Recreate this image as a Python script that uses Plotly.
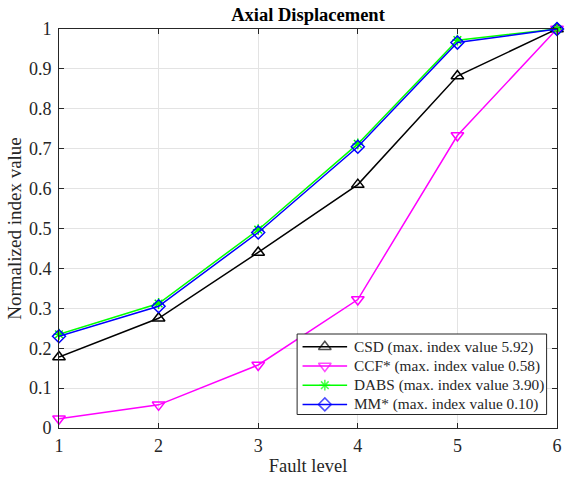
import plotly.graph_objects as go

fault_level = [1, 2, 3, 4, 5, 6]
csd = [0.178, 0.275, 0.44, 0.61, 0.882, 1.0]
ccf = [0.023, 0.058, 0.158, 0.322, 0.733, 1.0]
dabs = [0.235, 0.312, 0.497, 0.712, 0.972, 1.0]
mm = [0.230, 0.305, 0.490, 0.705, 0.966, 1.0]
y_ticks = [0, 0.1, 0.2, 0.3, 0.4, 0.5, 0.6, 0.7, 0.8, 0.9, 1]
y_tick_labels = ["0", "0.1", "0.2", "0.3", "0.4", "0.5", "0.6", "0.7", "0.8", "0.9", "1"]

names = [
    "CSD (max. index value 5.92)",
    "CCF* (max. index value 0.58)",
    "DABS (max. index value 3.90)",
    "MM* (max. index value 0.10)",
]
series = [csd, ccf, dabs, mm]
colors = ["#000000", "#ff00ff", "#00ff00", "#0000ff"]
symbols = ["triangle-up-open", "triangle-down-open", "asterisk-open", "diamond-open"]
sizes = [11, 11, 9, 10]

font = "Liberation Serif, Times New Roman, serif"

# plot area in pixels
L, R, T, B = 59, 562, 29, 428
W, H = 567, 481

fig = go.Figure()
for y, n, c, s, sz in zip(series, names, colors, symbols, sizes):
    fig.add_trace(go.Scatter(
        x=fault_level, y=y, name=n, mode="lines+markers",
        line=dict(color=c, width=1.5),
        marker=dict(symbol=s, size=sz, color=c, line=dict(color=c, width=1.5)),
        cliponaxis=False, showlegend=False,
    ))

# custom legend on a hidden overlay axis measured in pixels
bx0, bx1, by0, by1 = 299.5, 551.5, 334, 414.5
fig.add_trace(go.Scatter(
    x=[bx0, bx1, bx1, bx0, bx0], y=[by0, by0, by1, by1, by0],
    xaxis="x2", yaxis="y2", mode="lines", fill="toself", fillcolor="white",
    line=dict(color="#262626", width=1), hoverinfo="skip", showlegend=False,
))
row_y = [346.7, 366, 385.2, 404.4]
for ry, n, c, s, sz in zip(row_y, names, colors, symbols, sizes):
    fig.add_trace(go.Scatter(
        x=[305, 327.5, 350], y=[ry, ry, ry], xaxis="x2", yaxis="y2",
        mode="lines+markers", line=dict(color=c, width=1.5),
        marker=dict(symbol=s, size=[0, sz, 0], color=c, line=dict(color=c, width=1.5)),
        hoverinfo="skip", showlegend=False,
    ))
    fig.add_annotation(
        x=355, y=ry, xref="x2", yref="y2", text=n, showarrow=False,
        xanchor="left", yanchor="middle",
        font=dict(family=font, size=15.3, color="#262626"),
    )

fig.update_layout(
    width=W, height=H,
    margin=dict(l=L, r=W - R, t=T, b=H - B),
    paper_bgcolor="white", plot_bgcolor="white",
    font=dict(family=font, size=18, color="#262626"),
    title=dict(text="<b>Axial Displacement</b>", xref="paper", x=0.5, xanchor="center",
               yref="container", y=0.969, yanchor="middle",
               font=dict(size=18.5, color="#000000")),
    showlegend=False,
    xaxis2=dict(overlaying="x", range=[L, R], visible=False, fixedrange=True),
    yaxis2=dict(overlaying="y", range=[B, T], visible=False, fixedrange=True),
    xaxis=dict(
        range=[1, 6], tickvals=fault_level, ticktext=[str(v) for v in fault_level],
        showgrid=True, gridcolor="#e3e3e3", gridwidth=1,
        showline=True, linecolor="#262626", linewidth=1, mirror="ticks",
        ticks="inside", ticklen=5, tickcolor="#262626",
        zeroline=False, tickfont=dict(size=18), ticklabelstandoff=1,
        title=dict(text="Fault level", font=dict(size=18.5), standoff=4),
    ),
    yaxis=dict(
        range=[0, 1], tickvals=y_ticks, ticktext=y_tick_labels,
        showgrid=True, gridcolor="#e3e3e3", gridwidth=1,
        showline=True, linecolor="#262626", linewidth=1, mirror="ticks",
        ticks="inside", ticklen=5, tickcolor="#262626",
        zeroline=False, tickfont=dict(size=18), ticklabelstandoff=3,
        title=dict(text="Normalized index value", font=dict(size=19), standoff=2),
    ),
)
fig.write_html("out.html")
